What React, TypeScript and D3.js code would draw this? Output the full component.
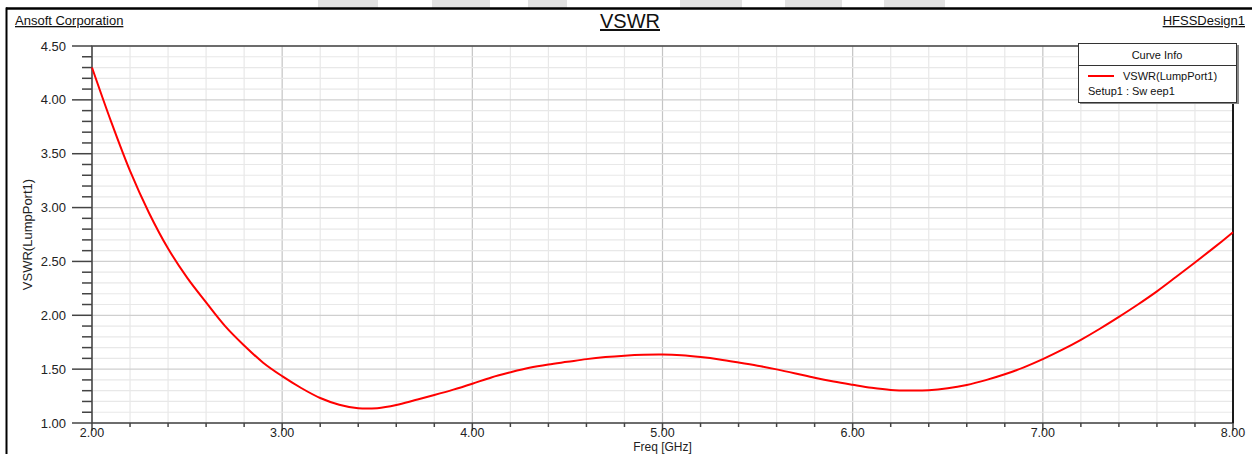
import React, { useRef, useEffect } from "react"
import * as d3 from "d3"

const chart_width = 1252
const chart_height = 454
const font = "'Liberation Sans', Arial, sans-serif"

// plot box
const left = 92
const right = 1233
const top = 46
const bottom = 423

// VSWR(LumpPort1), Setup1 : Sweep1, every 0.1 GHz
const freq = [
  2.0, 2.1, 2.2, 2.3, 2.4, 2.5, 2.6, 2.7, 2.8, 2.9,
  3.0, 3.1, 3.2, 3.3, 3.4, 3.5, 3.6, 3.7, 3.8, 3.9,
  4.0, 4.1, 4.2, 4.3, 4.4, 4.5, 4.6, 4.7, 4.8, 4.9,
  5.0, 5.1, 5.2, 5.3, 5.4, 5.5, 5.6, 5.7, 5.8, 5.9,
  6.0, 6.1, 6.2, 6.3, 6.4, 6.5, 6.6, 6.7, 6.8, 6.9,
  7.0, 7.1, 7.2, 7.3, 7.4, 7.5, 7.6, 7.7, 7.8, 7.9,
  8.0,
]
const vswr = [
  4.3, 3.8, 3.34, 2.95, 2.62, 2.35, 2.12, 1.9, 1.72, 1.56,
  1.435, 1.325, 1.232, 1.17, 1.137, 1.138, 1.167, 1.213, 1.26, 1.31,
  1.365, 1.423, 1.47, 1.512, 1.543, 1.568, 1.593, 1.612, 1.625, 1.633,
  1.635, 1.628, 1.612, 1.59, 1.562, 1.532, 1.498, 1.46, 1.42, 1.385,
  1.355, 1.327, 1.307, 1.301, 1.304, 1.322, 1.353, 1.398, 1.452, 1.517,
  1.593, 1.678, 1.772, 1.875, 1.985, 2.1, 2.222, 2.355, 2.49, 2.628,
  2.77,
]

const xTicks = [2, 3, 4, 5, 6, 7, 8]
const yTicks = [1, 1.5, 2, 2.5, 3, 3.5, 4, 4.5]

const App = () => {
  const d3Container = useRef(null)

  useEffect(() => {
    if (!d3Container.current) return
    const svg = d3.select(d3Container.current)
    svg.selectAll("*").remove()

    const x_scale = d3.scaleLinear().domain([2, 8]).range([left, right])
    const y_scale = d3.scaleLinear().domain([1, 4.5]).range([bottom, top])

    svg.append("rect").attr("width", chart_width).attr("height", chart_height).attr("fill", "#fff")

    // watermark strip above the frame
    const blocks = [[318, 378], [432, 490], [528, 567], [680, 742], [785, 842], [884, 945]]
    svg
      .selectAll("rect.wm")
      .data(blocks)
      .enter()
      .append("rect")
      .attr("x", d => d[0])
      .attr("y", 0)
      .attr("width", d => d[1] - d[0])
      .attr("height", 8)
      .attr("fill", "#e2e2e2")

    // outer frame
    svg.append("line").attr("x1", 6).attr("x2", chart_width).attr("y1", 8.5).attr("y2", 8.5)
      .attr("stroke", "#000").attr("stroke-width", 2.5)
    svg.append("line").attr("x1", 6.5).attr("x2", 6.5).attr("y1", 7.5).attr("y2", chart_height)
      .attr("stroke", "#000").attr("stroke-width", 2)

    // header
    const header = (txt, x, y, size, anchor) => {
      svg.append("text").attr("x", x).attr("y", y).attr("font-size", size)
        .attr("font-family", font).attr("text-anchor", anchor).attr("fill", "#111")
        .attr("text-decoration", "underline").text(txt)
    }
    header("Ansoft Corporation", 15, 25, 13, "start")
    header("VSWR", 630, 28, 20, "middle")
    header("HFSSDesign1", 1245, 25, 13, "end")

    // grid
    const minorX = d3.range(20, 81, 2).map(d => d / 10)
    const minorY = d3.range(10, 46, 1).map(d => d / 10)
    const isMajorX = d => Math.abs(d - Math.round(d)) < 1e-6
    const isMajorY = d => Math.abs(d * 2 - Math.round(d * 2)) < 1e-6
    const g = svg.append("g")
    g.selectAll("line.mx").data(minorX).enter().append("line")
      .attr("x1", d => x_scale(d)).attr("x2", d => x_scale(d)).attr("y1", top).attr("y2", bottom)
      .attr("stroke", d => (isMajorX(d) ? "#c4c4c4" : "#e8e8e8")).attr("stroke-width", 1.2)
    g.selectAll("line.my").data(minorY).enter().append("line")
      .attr("x1", left).attr("x2", right).attr("y1", d => y_scale(d)).attr("y2", d => y_scale(d))
      .attr("stroke", d => (isMajorY(d) ? "#cfcfcf" : "#e8e8e8")).attr("stroke-width", 1.2)

    // axes ticks
    const axisColor = "#444"
    svg.selectAll("line.ytk").data(minorY).enter().append("line")
      .attr("x1", d => (isMajorY(d) ? left - 20 : left - 10)).attr("x2", left)
      .attr("y1", d => y_scale(d)).attr("y2", d => y_scale(d))
      .attr("stroke", axisColor).attr("stroke-width", 1.5)
    svg.selectAll("line.xtk").data(minorX).enter().append("line")
      .attr("x1", d => x_scale(d)).attr("x2", d => x_scale(d))
      .attr("y1", bottom).attr("y2", d => (isMajorX(d) ? bottom + 8 : bottom + 4))
      .attr("stroke", axisColor).attr("stroke-width", 1.5)

    svg.selectAll("text.ytl").data(yTicks).enter().append("text")
      .attr("x", 66).attr("y", d => y_scale(d) + 4.5).attr("text-anchor", "end")
      .attr("font-family", font).attr("font-size", 13).attr("fill", "#222")
      .text(d => d.toFixed(2))
    svg.selectAll("text.xtl").data(xTicks).enter().append("text")
      .attr("x", d => x_scale(d)).attr("y", 437).attr("text-anchor", "middle")
      .attr("font-family", font).attr("font-size", 12.5).attr("fill", "#222")
      .text(d => d.toFixed(2))

    svg.append("text").attr("x", (left + right) / 2).attr("y", 451).attr("text-anchor", "middle")
      .attr("font-family", font).attr("font-size", 12).attr("fill", "#222").text("Freq [GHz]")
    svg.append("text").attr("transform", "translate(32," + (top + bottom) / 2 + ") rotate(-90)")
      .attr("text-anchor", "middle").attr("font-family", font).attr("font-size", 13).attr("fill", "#222")
      .text("VSWR(LumpPort1)")

    // plot border
    svg.append("rect").attr("x", left).attr("y", top).attr("width", right - left).attr("height", bottom - top)
      .attr("fill", "none").attr("stroke", axisColor).attr("stroke-width", 1.5)
    svg.append("line").attr("x1", right).attr("x2", right).attr("y1", top).attr("y2", bottom)
      .attr("stroke", "#000").attr("stroke-width", 1.5)

    // curve
    const line = d3.line()
      .x((d, i) => x_scale(freq[i]))
      .y(d => y_scale(d))
      .curve(d3.curveCatmullRom.alpha(0.5))
    svg.append("path").datum(vswr).attr("d", line).attr("fill", "none")
      .attr("stroke", "#ff0000").attr("stroke-width", 2)

    // legend
    const lg = svg.append("g")
    lg.append("rect").attr("x", 1080).attr("y", 45).attr("width", 159).attr("height", 59).attr("fill", "#888")
    lg.append("rect").attr("x", 1078.5).attr("y", 43.5).attr("width", 158).attr("height", 59)
      .attr("fill", "#fff").attr("stroke", "#333").attr("stroke-width", 1)
    lg.append("line").attr("x1", 1078.5).attr("x2", 1236.5).attr("y1", 65.5).attr("y2", 65.5)
      .attr("stroke", "#333").attr("stroke-width", 1)
    lg.append("text").attr("x", 1157).attr("y", 59).attr("text-anchor", "middle")
      .attr("font-family", font).attr("font-size", 11).attr("fill", "#111").text("Curve Info")
    lg.append("line").attr("x1", 1088).attr("x2", 1114).attr("y1", 76).attr("y2", 76)
      .attr("stroke", "#ff0000").attr("stroke-width", 2)
    lg.append("text").attr("x", 1123).attr("y", 80)
      .attr("font-family", font).attr("font-size", 11).attr("fill", "#111").text("VSWR(LumpPort1)")
    lg.append("text").attr("x", 1088).attr("y", 95)
      .attr("font-family", font).attr("font-size", 11).attr("fill", "#111").text("Setup1 : Sw eep1")
  }, [])

  return (
    <svg
      ref={d3Container}
      width={chart_width}
      height={chart_height}
      style={{ position: "absolute", left: 0, top: 0 }}
    />
  )
}

export default App
